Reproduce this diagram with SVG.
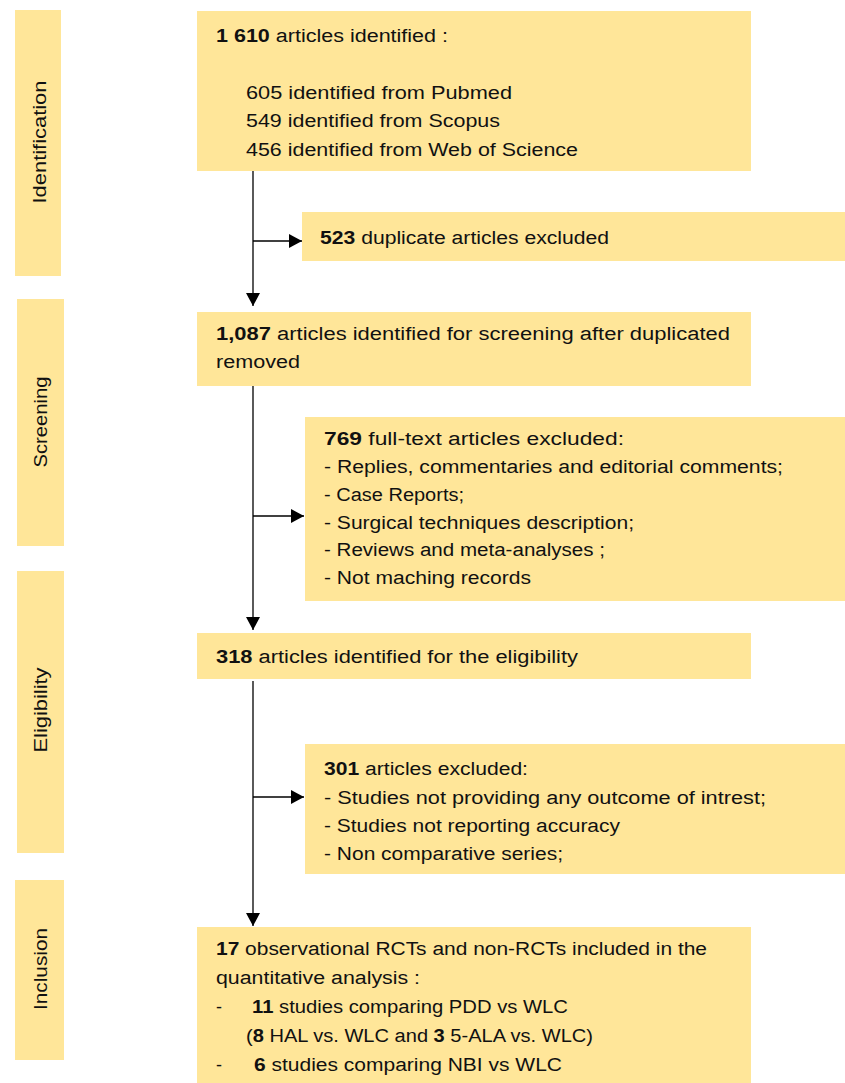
<svg xmlns="http://www.w3.org/2000/svg" width="845" height="1083" viewBox="0 0 845 1083">
<defs>
<style>
.box{fill:#FFE699;}
.t{font-family:"Liberation Sans",Arial,sans-serif;font-size:18px;fill:#111;}
.s{font-family:"Liberation Sans",Arial,sans-serif;font-size:18px;fill:#111;}
.b{font-weight:bold;}
.c{stroke:#000;stroke-width:1.3;fill:none;}
</style>
<marker id="ah" viewBox="0 0 13 14" refX="13" refY="7" markerWidth="13" markerHeight="14" markerUnits="userSpaceOnUse" orient="auto">
<path d="M0,0 L13,7 L0,14 Z" fill="#000"/>
</marker>
</defs>
<rect width="845" height="1083" fill="#fff"/>

<g id="stage-identification">
<rect class="box" x="15" y="10" width="46" height="266"/>
<text class="s" transform="translate(46,142) rotate(-90)" text-anchor="middle" textLength="123" lengthAdjust="spacingAndGlyphs">Identification</text>
</g>
<g id="stage-screening">
<rect class="box" x="17" y="299" width="47" height="247"/>
<text class="s" transform="translate(47,422) rotate(-90)" text-anchor="middle" textLength="91" lengthAdjust="spacingAndGlyphs">Screening</text>
</g>
<g id="stage-eligibility">
<rect class="box" x="17" y="571" width="47" height="282"/>
<text class="s" transform="translate(47,710) rotate(-90)" text-anchor="middle" textLength="85" lengthAdjust="spacingAndGlyphs">Eligibility</text>
</g>
<g id="stage-inclusion">
<rect class="box" x="15" y="880" width="49" height="180"/>
<text class="s" transform="translate(47,969) rotate(-90)" text-anchor="middle" textLength="82" lengthAdjust="spacingAndGlyphs">Inclusion</text>
</g>

<g id="connectors">
<line class="c" x1="253" y1="171" x2="253" y2="306" marker-end="url(#ah)"/>
<line class="c" x1="253" y1="241" x2="302" y2="241" marker-end="url(#ah)"/>
<line class="c" x1="253" y1="386" x2="253" y2="630" marker-end="url(#ah)"/>
<line class="c" x1="253" y1="516" x2="304" y2="516" marker-end="url(#ah)"/>
<line class="c" x1="253" y1="681" x2="253" y2="926" marker-end="url(#ah)"/>
<line class="c" x1="253" y1="797" x2="304" y2="797" marker-end="url(#ah)"/>
</g>

<g id="n-identified">
<rect class="box" x="197" y="11" width="554" height="160"/>
<text class="t" x="216" y="42" textLength="232" lengthAdjust="spacingAndGlyphs"><tspan class="b">1 610</tspan> articles identified :</text>
<text class="t" x="246" y="99" textLength="266" lengthAdjust="spacingAndGlyphs">605 identified from Pubmed</text>
<text class="t" x="246" y="127" textLength="254" lengthAdjust="spacingAndGlyphs">549 identified from Scopus</text>
<text class="t" x="246" y="156" textLength="332" lengthAdjust="spacingAndGlyphs">456 identified from Web of Science</text>
</g>

<g id="n-duplicates">
<rect class="box" x="302" y="212" width="543" height="49"/>
<text class="t" x="320" y="244" textLength="289" lengthAdjust="spacingAndGlyphs"><tspan class="b">523</tspan> duplicate articles excluded</text>
</g>

<g id="n-screening">
<rect class="box" x="197" y="312" width="554" height="74"/>
<text class="t" x="216" y="340" textLength="514" lengthAdjust="spacingAndGlyphs"><tspan class="b">1,087</tspan>  articles identified  for screening after duplicated</text>
<text class="t" x="216" y="368" textLength="84" lengthAdjust="spacingAndGlyphs">removed</text>
</g>

<g id="n-excluded-769">
<rect class="box" x="305" y="417" width="540" height="184"/>
<text class="t" x="324" y="445" textLength="300" lengthAdjust="spacingAndGlyphs"><tspan class="b">769</tspan>  full-text articles excluded:</text>
<text class="t" x="324" y="473" textLength="459" lengthAdjust="spacingAndGlyphs">- Replies, commentaries and editorial comments;</text>
<text class="t" x="324" y="501" textLength="140" lengthAdjust="spacingAndGlyphs">- Case Reports;</text>
<text class="t" x="324" y="529" textLength="310" lengthAdjust="spacingAndGlyphs">- Surgical techniques description;</text>
<text class="t" x="324" y="556" textLength="281" lengthAdjust="spacingAndGlyphs">- Reviews and meta-analyses ;</text>
<text class="t" x="324" y="584" textLength="207" lengthAdjust="spacingAndGlyphs">- Not maching records</text>
</g>

<g id="n-eligibility">
<rect class="box" x="197" y="633" width="554" height="46"/>
<text class="t" x="216" y="663" textLength="362" lengthAdjust="spacingAndGlyphs"><tspan class="b">318</tspan> articles identified for the eligibility</text>
</g>

<g id="n-excluded-301">
<rect class="box" x="305" y="744" width="540" height="130"/>
<text class="t" x="324" y="775" textLength="204" lengthAdjust="spacingAndGlyphs"><tspan class="b">301</tspan> articles excluded:</text>
<text class="t" x="324" y="804" textLength="442" lengthAdjust="spacingAndGlyphs">- Studies  not providing any outcome of intrest;</text>
<text class="t" x="324" y="832" textLength="296" lengthAdjust="spacingAndGlyphs">- Studies not reporting accuracy</text>
<text class="t" x="324" y="860" textLength="239" lengthAdjust="spacingAndGlyphs">- Non comparative series;</text>
</g>

<g id="n-included">
<rect class="box" x="197" y="927" width="554" height="156"/>
<text class="t" x="216" y="955" textLength="491" lengthAdjust="spacingAndGlyphs"><tspan class="b">17</tspan> observational RCTs and non-RCTs  included in the</text>
<text class="t" x="216" y="984" textLength="204" lengthAdjust="spacingAndGlyphs">quantitative analysis :</text>
<text class="t" x="216" y="1013">-</text>
<text class="t" x="252" y="1013" textLength="316" lengthAdjust="spacingAndGlyphs"><tspan class="b">11</tspan> studies comparing PDD vs WLC</text>
<text class="t" x="246" y="1042" textLength="347" lengthAdjust="spacingAndGlyphs">(<tspan class="b">8</tspan> HAL vs. WLC and <tspan class="b">3</tspan> 5-ALA vs. WLC)</text>
<text class="t" x="216" y="1071">-</text>
<text class="t" x="254" y="1071" textLength="308" lengthAdjust="spacingAndGlyphs"><tspan class="b">6</tspan> studies comparing NBI vs WLC</text>
</g>
</svg>
